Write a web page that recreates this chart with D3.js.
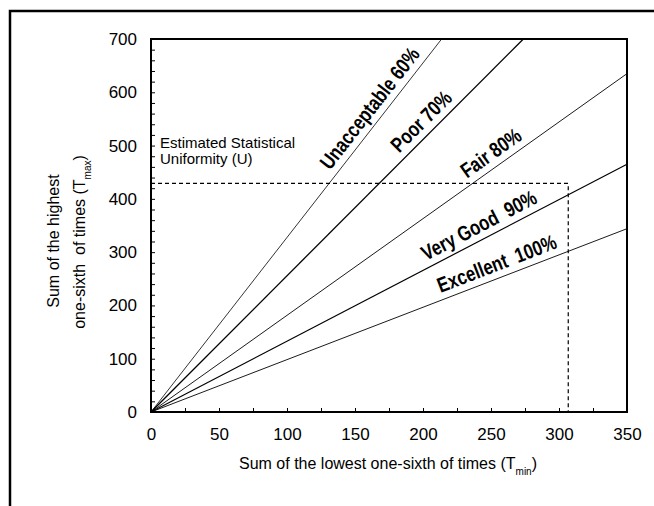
<!DOCTYPE html>
<html>
<head>
<meta charset="utf-8">
<script src="https://cdn.jsdelivr.net/npm/d3@7"></script>
<style>
  body { margin: 0; background: #fff; }
  text { font-family: "Liberation Sans", Arial, sans-serif; fill: #000; }
</style>
</head>
<body>
<div id="chart"></div>
<script>
// uniformity classes: each line runs from the origin to its end point
const classes = ['Unacceptable 60%', 'Poor 70%', 'Fair 80%', 'Very Good  90%', 'Excellent  100%'];
const endTmin = [213.7, 273.8, 350, 350, 350];
const endTmax = [700, 700, 635, 465, 344];
// where along each line (in Tmin units) the label sits
const labelAt = [169, 206, 256, 246, 258];

// the worked example drawn with dashed lines
const exampleTmin = 306.8;
const exampleTmax = 429;

const xTicks = [0, 50, 100, 150, 200, 250, 300, 350];
const yTicks = [0, 100, 200, 300, 400, 500, 600, 700];

const width = 654, height = 506;
const plot = { left: 151, right: 627, top: 39, bottom: 412 };

const svg = d3.select('#chart')
    .append('svg')
    .attr('width', width)
    .attr('height', height);

const x = d3.scaleLinear().domain([0, 350]).range([plot.left, plot.right]);
const y = d3.scaleLinear().domain([0, 700]).range([plot.bottom, plot.top]);

// outer frame (only left and top edges are visible)
svg.append('path')
    .attr('d', `M10,${height} L10,11 L${width},11`)
    .attr('fill', 'none')
    .attr('stroke', '#000')
    .attr('stroke-width', 2.5);

// minor ticks, pointing inward
const yMinor = d3.range(0, 701, 20);
const xMinor = d3.range(0, 351, 25);

svg.append('g')
    .attr('transform', `translate(${plot.left},0)`)
    .call(d3.axisRight(y).tickValues(yMinor).tickSize(4).tickFormat(''))
    .call(g => g.select('.domain').remove())
    .selectAll('line').attr('stroke-width', 1);

svg.append('g')
    .attr('transform', `translate(0,${plot.bottom})`)
    .call(d3.axisTop(x).tickValues(xMinor).tickSize(4).tickFormat(''))
    .call(g => g.select('.domain').remove())
    .selectAll('line').attr('stroke-width', 1);

// tick labels
svg.append('g')
    .attr('transform', `translate(${plot.left},0)`)
    .call(d3.axisLeft(y).tickValues(yTicks).tickSize(0).tickPadding(14))
    .call(g => g.select('.domain').remove())
    .selectAll('text')
    .style('font-size', '17px')
    .style('font-family', '"Liberation Sans", Arial, sans-serif');

svg.append('g')
    .attr('transform', `translate(0,${plot.bottom})`)
    .call(d3.axisBottom(x).tickValues(xTicks).tickSize(0).tickPadding(16))
    .call(g => g.select('.domain').remove())
    .selectAll('text')
    .style('font-size', '17px')
    .style('font-family', '"Liberation Sans", Arial, sans-serif');

// plot frame
svg.append('rect')
    .attr('x', plot.left)
    .attr('y', plot.top)
    .attr('width', plot.right - plot.left)
    .attr('height', plot.bottom - plot.top)
    .attr('fill', 'none')
    .attr('stroke', '#000')
    .attr('stroke-width', 2);

// dashed example lines
const dash = d3.line().x(d => x(d[0])).y(d => y(d[1]));
svg.append('path')
    .attr('d', dash([[0, exampleTmax], [exampleTmin, exampleTmax], [exampleTmin, 0]]))
    .attr('fill', 'none')
    .attr('stroke', '#000')
    .attr('stroke-width', 1.2)
    .attr('stroke-dasharray', '4,3');

// uniformity lines
const widths = [0.8, 1.3, 0.9, 1.2, 0.9];
const line = d3.line().x(d => x(d[0])).y(d => y(d[1]));
classes.forEach((name, i) => {
    svg.append('path')
        .attr('d', line([[0, 0], [endTmin[i], endTmax[i]]]))
        .attr('fill', 'none')
        .attr('stroke', '#000')
        .attr('stroke-width', widths[i]);

    const slope = endTmax[i] / endTmin[i];
    const angle = Math.atan2(y(endTmax[i]) - y(0), x(endTmin[i]) - x(0)) * 180 / Math.PI;
    const px = x(labelAt[i]), py = y(labelAt[i] * slope);
    // squeeze horizontally to imitate the narrow bold face
    svg.append('text')
        .attr('transform', `translate(${px},${py}) rotate(${angle}) scale(0.8,1)`)
        .attr('text-anchor', 'middle')
        .attr('dy', -7)
        .style('font-weight', 'bold')
        .style('font-size', '21px')
        .style('white-space', 'pre')
        .text(name);
});

// annotation
const note = svg.append('text')
    .attr('x', 160)
    .attr('y', 148)
    .style('font-size', '15px');
note.append('tspan').attr('x', 160).text('Estimated Statistical');
note.append('tspan').attr('x', 160).attr('dy', 16).text('Uniformity (U)');

// axis titles
const xt = svg.append('text')
    .attr('x', 388)
    .attr('y', 469)
    .attr('text-anchor', 'middle')
    .style('font-size', '16px');
xt.append('tspan').text('Sum of the lowest one-sixth of times (T');
xt.append('tspan').attr('baseline-shift', 'sub').style('font-size', '10px').text('min');
xt.append('tspan').text(')');

const yt = svg.append('text')
    .attr('transform', 'translate(59,241) rotate(-90)')
    .attr('text-anchor', 'middle')
    .style('font-size', '16px');
yt.append('tspan').attr('x', 0).text('Sum of the highest');

const yt2 = svg.append('text')
    .attr('transform', 'translate(85,242) rotate(-90)')
    .attr('text-anchor', 'middle')
    .style('font-size', '16px')
    .style('white-space', 'pre');
yt2.append('tspan').text('one-sixth  of times (T');
yt2.append('tspan').attr('baseline-shift', 'sub').style('font-size', '10px').text('max');
yt2.append('tspan').text(')');
</script>
</body>
</html>
